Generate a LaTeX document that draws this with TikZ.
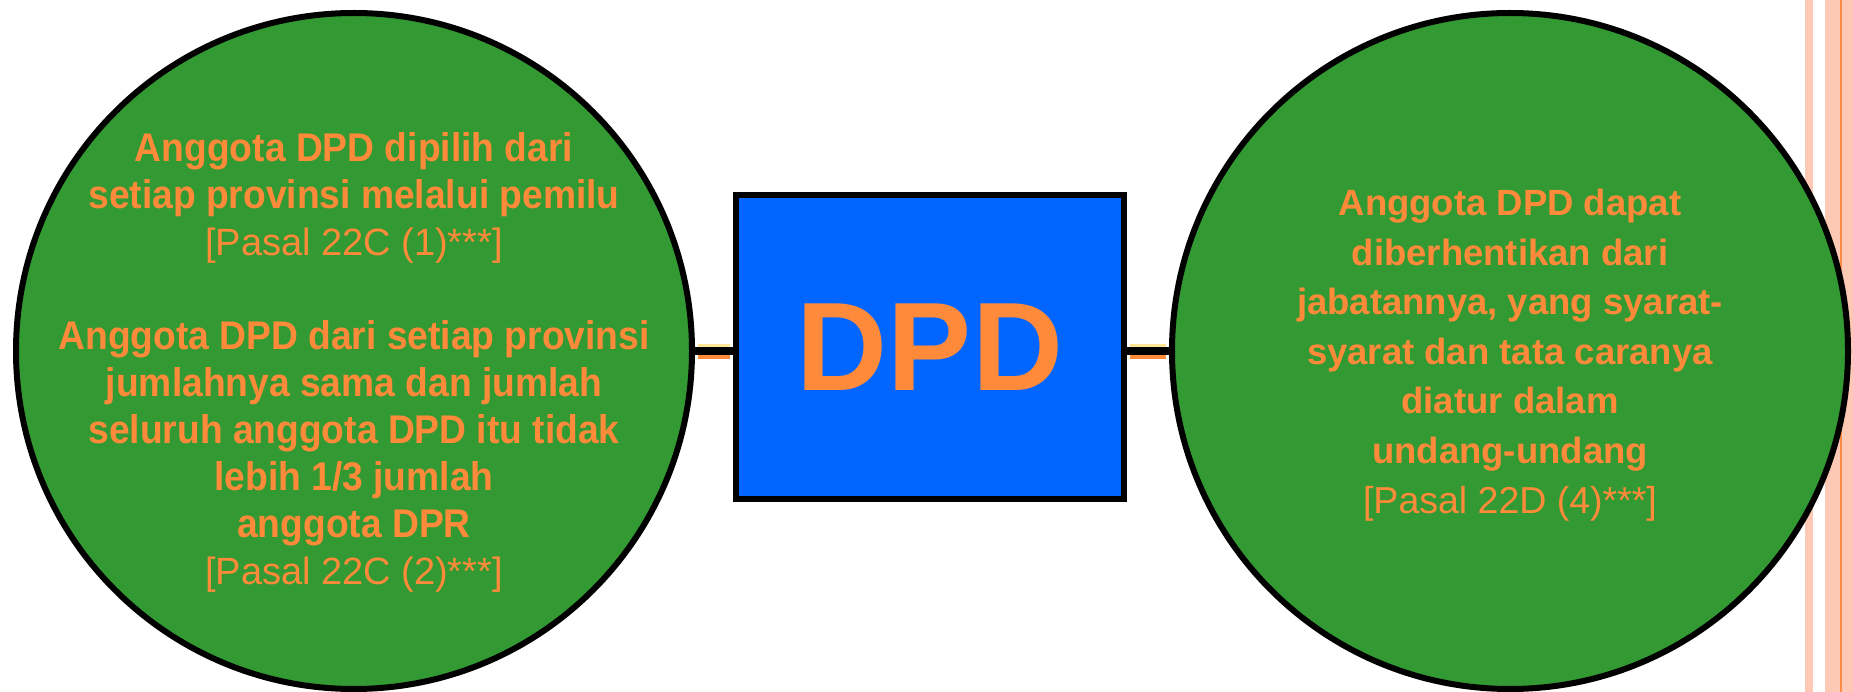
\documentclass[tikz,border=0pt]{standalone}
\usepackage{fontspec}
\setmainfont{Liberation Sans}
\newfontfamily\narrowsans[FakeStretch=0.93]{Liberation Sans}
\usepackage{xcolor}
\definecolor{dpdgreen}{RGB}{51,153,51}
\definecolor{dpdorange}{RGB}{255,138,58}
\definecolor{dpdblue}{RGB}{0,102,255}
\definecolor{stripe}{RGB}{253,201,181}
\definecolor{stripeline}{RGB}{255,140,70}
\definecolor{linkyellow}{RGB}{255,230,150}

\begin{document}
\begin{tikzpicture}[x=1pt,y=-1pt,
    bubble/.style={circle, draw, line width=6pt, fill=dpdgreen, minimum size=676pt, inner sep=0pt},
    bubbletext/.style={align=center, text=dpdorange},
    link/.style={line width=8pt},
    glow/.style={shorten <=3pt, shorten >=3pt}]

    \useasboundingbox (0,0) rectangle (1853,692);
    \fill[stripe] (1805,0) rectangle (1813,692);
    \fill[stripe] (1825,0) rectangle (1853,692);
    \draw[stripeline, line width=2.5pt] (1841,0) -- (1841,692);

    \node[bubble] (left) at (354,351) {};
    \node[bubble] (right) at (1510,351) {};
    \node[rectangle, draw, line width=6pt, fill=dpdblue, minimum width=388pt, minimum height=304pt, inner sep=0pt] (dpd) at (930,347) {};

    \draw[link] (left.east) -- (left.east -| dpd.west);
    \draw[link] (right.west -| dpd.east) -- (right.west);
    \draw[glow, linkyellow, line width=3pt] ([yshift=5.5pt]left.east) -- ([yshift=5.5pt]left.east -| dpd.west);
    \draw[glow, dpdorange, line width=4pt] ([yshift=-6pt]left.east) -- ([yshift=-6pt]left.east -| dpd.west);
    \draw[glow, linkyellow, line width=3pt] ([yshift=5.5pt]right.west -| dpd.east) -- ([yshift=5.5pt]right.west);
    \draw[glow, dpdorange, line width=4pt] ([yshift=-6pt]right.west -| dpd.east) -- ([yshift=-6pt]right.west);

    \node[bubbletext, font=\fontsize{38}{47}\selectfont] (lefttext) at (354,362) {%
        {\narrowsans\fontsize{40}{47}\selectfont\bfseries Anggota DPD dipilih dari}\\
        {\narrowsans\fontsize{40}{47}\selectfont\bfseries setiap provinsi melalui pemilu}\\
        {[Pasal 22C (1)***]}\\[47pt]
        {\narrowsans\fontsize{40}{47}\selectfont\bfseries Anggota DPD dari setiap provinsi}\\
        {\narrowsans\fontsize{40}{47}\selectfont\bfseries jumlahnya sama dan jumlah}\\
        {\narrowsans\fontsize{40}{47}\selectfont\bfseries seluruh anggota DPD itu tidak}\\
        {\narrowsans\fontsize{40}{47}\selectfont\bfseries lebih 1/3 jumlah}\\
        {\narrowsans\fontsize{40}{47}\selectfont\bfseries anggota DPR}\\
        {[Pasal 22C (2)***]}};
    \node[bubbletext, font=\fontsize{36.5}{49.6}\selectfont] (righttext) at (1510,355) {%
        \textbf{Anggota DPD dapat}\\
        \textbf{diberhentikan dari}\\
        \textbf{jabatannya, yang syarat-}\\
        \textbf{syarat dan tata caranya}\\
        \textbf{diatur dalam}\\
        \textbf{undang-undang}\\
        {\fontsize{37.5}{49.6}\selectfont[Pasal 22D (4)***]}};
    \node[text=dpdorange, font=\fontsize{126}{130}\selectfont\bfseries] (dpdlabel) at (dpd) {DPD};
\end{tikzpicture}
\end{document}
